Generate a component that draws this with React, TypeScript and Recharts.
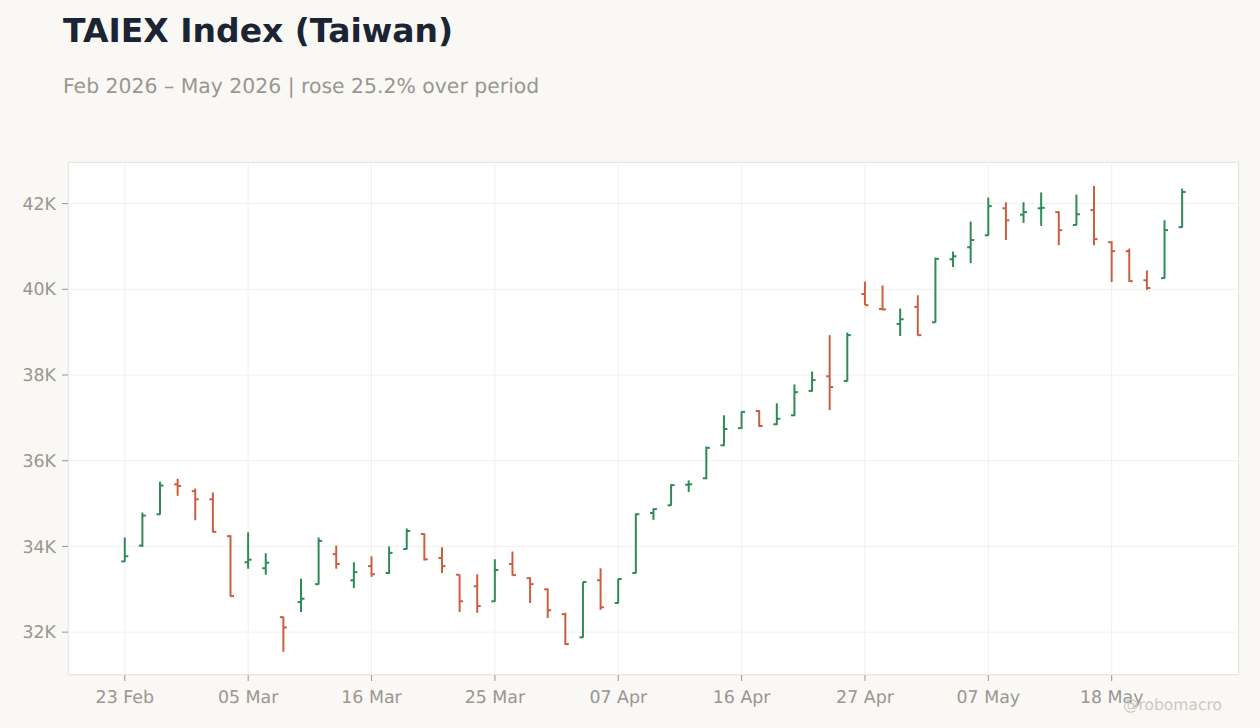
import { Bar, CartesianGrid, ComposedChart, XAxis, YAxis } from "recharts";

const dates = [
  "23 Feb", "24 Feb", "25 Feb", "26 Feb", "02 Mar", "03 Mar", "04 Mar", "05 Mar", "06 Mar", "09 Mar",
  "10 Mar", "11 Mar", "12 Mar", "13 Mar", "16 Mar", "17 Mar", "18 Mar", "19 Mar", "20 Mar", "23 Mar",
  "24 Mar", "25 Mar", "26 Mar", "27 Mar", "30 Mar", "31 Mar", "01 Apr", "02 Apr", "07 Apr", "08 Apr",
  "09 Apr", "10 Apr", "13 Apr", "14 Apr", "15 Apr", "16 Apr", "17 Apr", "20 Apr", "21 Apr", "22 Apr",
  "23 Apr", "24 Apr", "27 Apr", "28 Apr", "29 Apr", "30 Apr", "04 May", "05 May", "06 May", "07 May",
  "08 May", "11 May", "12 May", "13 May", "14 May", "15 May", "18 May", "19 May", "20 May", "21 May",
  "22 May",
];
const opens = [
  33650, 34020, 34750, 35450, 35290, 35100, 34240, 33630, 33490, 32350,
  32700, 33120, 33820, 33210, 33540, 33380, 33940, 34290, 33730, 33340,
  33070, 32720, 33590, 33260, 33000, 32420, 31880, 33210, 32680, 33380,
  34780, 34960, 35440, 35590, 36360, 36760, 37160, 36850, 37060, 37630,
  37970, 37860, 39890, 39540, 39190, 39590, 39230, 40700, 40980, 41260,
  41890, 41740, 41890, 41800, 41500, 41850, 41100, 40890, 40210, 40260,
  41450,
];
const highs = [
  34210, 34790, 35510, 35580, 35350, 35260, 34260, 34330, 33840, 32360,
  33250, 34210, 34020, 33630, 33770, 34000, 34420, 34300, 33980, 33340,
  33350, 33700, 33880, 33280, 33020, 32450, 33170, 33490, 33240, 34770,
  34890, 35450, 35540, 36330, 37060, 37150, 37180, 37340, 37780, 38080,
  38930, 38990, 40180, 40090, 39550, 39860, 40740, 40880, 41580, 42140,
  42030, 42030, 42260, 41820, 42210, 42410, 41120, 40950, 40440, 41610,
  42350,
];
const lows = [
  33640, 33990, 34740, 35180, 34610, 34330, 32830, 33480, 33340, 31540,
  32470, 33110, 33480, 33030, 33290, 33360, 33930, 33670, 33380, 32470,
  32450, 32710, 33320, 32680, 32330, 31700, 31870, 32520, 32670, 33370,
  34620, 34950, 35270, 35570, 36340, 36740, 36790, 36830, 37040, 37610,
  37180, 37850, 39630, 39510, 38910, 38920, 39220, 40520, 40610, 41250,
  41150, 41550, 41480, 41030, 41490, 41030, 40170, 40170, 39990, 40250,
  41440,
];
const closes = [
  33770, 34720, 35420, 35410, 35100, 34340, 32840, 33690, 33620, 32110,
  32780, 34130, 33590, 33400, 33350, 33850, 34360, 33700, 33540, 32720,
  32610, 33450, 33330, 33120, 32510, 31720, 33170, 32580, 33240, 34750,
  34870, 35430, 35450, 36300, 36740, 37140, 36810, 36980, 37600, 37880,
  37720, 38930, 39630, 39530, 39300, 38930, 40710, 40770, 41150, 41940,
  41610, 41800, 41900, 41380, 41750, 41170, 40890, 40190, 40030, 41380,
  42270,
];
const dateTicks = ["23 Feb", "05 Mar", "16 Mar", "25 Mar", "07 Apr", "16 Apr", "27 Apr", "07 May", "18 May"];
const priceTicks = [32000, 34000, 36000, 38000, 40000, 42000];

const UP = "#2e8b57";
const DOWN = "#c8603f";
const MUTED = "#9a9690";
const FONT = "'DejaVu Sans', sans-serif";

const rows = dates.map((date, i) => ({
  date,
  open: opens[i],
  high: highs[i],
  low: lows[i],
  close: closes[i],
}));

function OhlcMark(props: any) {
  const { x, y, width, height, payload } = props;
  const { open, high, low, close } = payload;
  const color = close >= open ? UP : DOWN;
  const cx = x + width / 2;
  // Bar only gives us the high-low span, open and close sit inside it
  const yOf = (v: number) => y + ((high - v) / (high - low)) * height;
  return (
    <g stroke={color} strokeWidth={2} fill="none">
      <line x1={cx} x2={cx} y1={y} y2={y + height} />
      <line x1={cx - 3.5} x2={cx} y1={yOf(open)} y2={yOf(open)} />
      <line x1={cx} x2={cx + 3.5} y1={yOf(close)} y2={yOf(close)} />
    </g>
  );
}

export default function App() {
  return (
    <div style={{ position: "absolute", left: 0, top: 0, width: 1260, height: 728, background: "#f9f8f5", overflow: "hidden", fontFamily: FONT, textRendering: "geometricPrecision" }}>
      <div style={{ position: "absolute", left: 63, top: 12, fontSize: 33, lineHeight: "38px", fontWeight: 700, color: "#1a2433" }}>
        TAIEX Index (Taiwan)
      </div>
      <div style={{ position: "absolute", left: 63, top: 75, fontSize: 20.4, lineHeight: "22px", color: MUTED }}>
        Feb 2026 – May 2026 | rose 25.2% over period
      </div>
      {/* plot panel, sits behind the transparent chart */}
      <div style={{ position: "absolute", left: 68, top: 162, width: 1171, height: 513, boxSizing: "border-box", background: "#ffffff", border: "1px solid #e0dcd5" }} />
      <ComposedChart
        width={1260}
        height={728}
        data={rows}
        margin={{ top: 162, right: 21, bottom: 23, left: 8 }}
        style={{ position: "absolute", left: 0, top: 0 }}
      >
        <CartesianGrid stroke="#f1f0ee" strokeWidth={1} />
        <XAxis
          dataKey="date"
          ticks={dateTicks}
          interval={0}
          padding={{ left: 48, right: 48 }}
          height={30}
          axisLine={false}
          tickLine={{ stroke: MUTED }}
          tickSize={6}
          tickMargin={10}
          tick={{ fill: MUTED, fontSize: 17.4, fontFamily: FONT }}
        />
        <YAxis
          type="number"
          domain={[31000, 42970]}
          ticks={priceTicks}
          interval={0}
          width={60}
          axisLine={false}
          tickLine={{ stroke: MUTED }}
          tickSize={6}
          tickMargin={6}
          tick={{ fill: MUTED, fontSize: 17.4, fontFamily: FONT }}
          tickFormatter={(v: number) => `${v / 1000}K`}
        />
        <Bar dataKey={(d: any) => [d.low, d.high]} shape={OhlcMark} isAnimationActive={false} />
      </ComposedChart>
      <div style={{ position: "absolute", left: 1123, top: 696, fontSize: 15.5, lineHeight: "18px", color: "#cbc8c2" }}>
        @robomacro
      </div>
    </div>
  );
}
